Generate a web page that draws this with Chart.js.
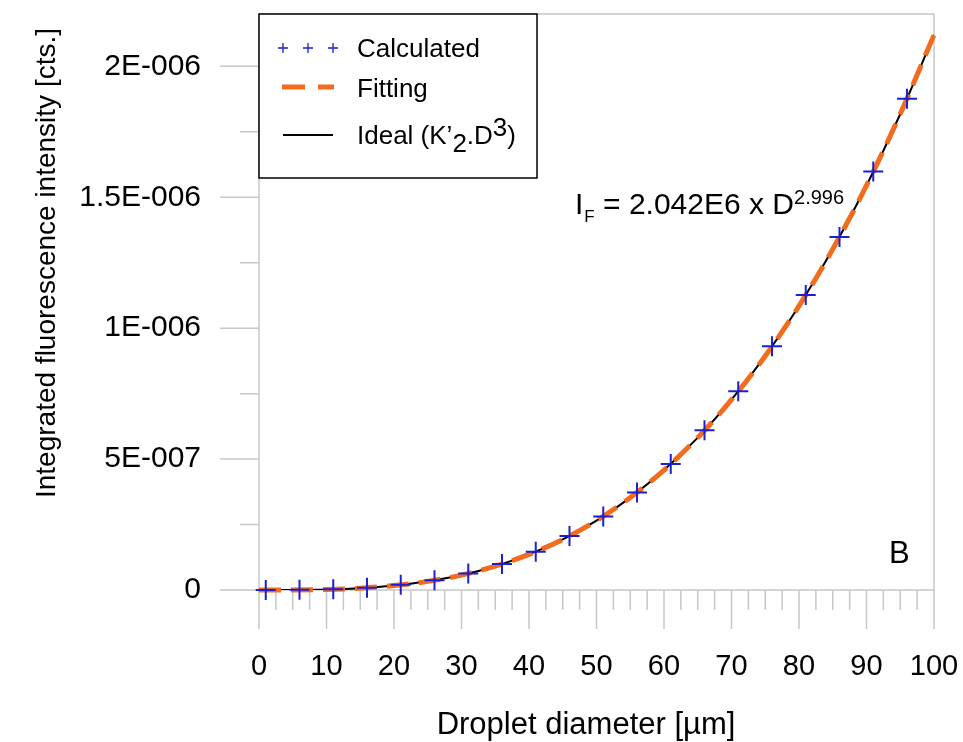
<!DOCTYPE html>
<html>
<head>
<meta charset="utf-8">
<script src="https://cdn.jsdelivr.net/npm/chart.js@4.4.1/dist/chart.umd.min.js"></script>
<style>
  html, body { margin: 0; padding: 0; background: #fff; }
</style>
</head>
<body>
<canvas id="intensityChart" width="963" height="742"></canvas>
<script>
/*
* droplet fluorescence chart: calculated points, the fitted power law and the
* ideal D^3 curve, plus a boxed legend and the fit equation.
*/
const diameterCalc = [1, 6, 11, 16, 21, 26, 31, 36, 41, 46, 51, 56, 61, 66, 71, 76, 81, 86, 91, 96];
const intensityCalc = [0.000e-6, 0.0005e-6, 0.003e-6, 0.009e-6, 0.020e-6, 0.037e-6, 0.063e-6,
   0.099e-6, 0.146e-6, 0.206e-6, 0.281e-6, 0.372e-6, 0.481e-6, 0.610e-6, 0.759e-6, 0.931e-6,
   1.127e-6, 1.348e-6, 1.598e-6, 1.876e-6];

const diameterCurve = [0, 5, 10, 15, 20, 25, 30, 35, 40, 45, 50, 55, 60, 65, 70, 75, 80, 85, 90, 95, 100];
const intensityFit = [0, 0.0003e-6, 0.002e-6, 0.007e-6, 0.017e-6, 0.033e-6, 0.057e-6, 0.091e-6,
   0.136e-6, 0.193e-6, 0.265e-6, 0.353e-6, 0.458e-6, 0.582e-6, 0.727e-6, 0.894e-6, 1.085e-6,
   1.302e-6, 1.545e-6, 1.818e-6, 2.120e-6];
const intensityIdeal = [0, 0.0003e-6, 0.002e-6, 0.007e-6, 0.017e-6, 0.033e-6, 0.057e-6, 0.091e-6,
   0.136e-6, 0.193e-6, 0.265e-6, 0.353e-6, 0.458e-6, 0.582e-6, 0.727e-6, 0.894e-6, 1.085e-6,
   1.302e-6, 1.545e-6, 1.818e-6, 2.120e-6];

const xTickValues = [0, 10, 20, 30, 40, 50, 60, 70, 80, 90, 100];
const xTickLabels = ['0', '10', '20', '30', '40', '50', '60', '70', '80', '90', '100'];
const yTickValues = [0, 0.5e-6, 1e-6, 1.5e-6, 2e-6];
const yTickLabels = ['0', '5E-007', '1E-006', '1.5E-006', '2E-006'];
const xMinorStep = 2.5;
const yMinorStep = 0.25e-6;

const BLUE = 'rgb(30,30,210)';
const ORANGE = 'rgb(243,108,30)';
const AXIS_GRAY = 'rgb(200,200,200)';
const FONT = '"Liberation Sans", Arial, sans-serif';

function toPoints(xs, ys) {
   return xs.map((x, i) => ({ x: x, y: ys[i] }));
}

/*
* pins a scale to a fixed size and drops the edge padding chart.js adds
* for its outer labels, so the plot area lands where we want it.
*/
function fixScale(scale, size) {
   if (scale.isHorizontal()) {
      scale.height = size;
   } else {
      scale.width = size;
   }
   scale.paddingTop = 0;
   scale.paddingBottom = 0;
   scale.paddingLeft = 0;
   scale.paddingRight = 0;
}

/*
* frame, axis lines and the major/minor tick marks, drawn under the data.
*/
const axesFrame = {
   id: 'axesFrame',
   beforeDatasetsDraw(chart) {
      const { ctx, chartArea: a, scales: { x, y } } = chart;
      ctx.save();
      ctx.strokeStyle = AXIS_GRAY;
      ctx.lineWidth = 1.5;
      ctx.beginPath();
      // top and right edges
      ctx.moveTo(a.left, a.top); ctx.lineTo(a.right, a.top); ctx.lineTo(a.right, a.bottom);
      // y axis line, carried down as the x = 0 tick
      ctx.moveTo(a.left, a.top); ctx.lineTo(a.left, a.bottom + 39);
      // x axis line, carried left as the y = 0 tick
      ctx.moveTo(a.left - 39, a.bottom); ctx.lineTo(a.right, a.bottom);
      for (let v = 0; v <= 100.001; v += xMinorStep) {
         const px = x.getPixelForValue(v);
         const major = Math.abs(v % 10) < 1e-6;
         ctx.moveTo(px, a.bottom);
         ctx.lineTo(px, a.bottom + (major ? 39 : 20));
      }
      for (let v = 0; v <= 2.2e-6; v += yMinorStep) {
         const py = y.getPixelForValue(v);
         const major = yTickValues.some(t => Math.abs(t - v) < 1e-9);
         ctx.moveTo(a.left, py);
         ctx.lineTo(a.left - (major ? 39 : 19), py);
      }
      ctx.stroke();
      ctx.restore();
   },
   afterDraw(chart) {
      const { ctx } = chart;
      const sets = chart.data.datasets;
      ctx.save();
      ctx.fillStyle = '#000';
      ctx.textBaseline = 'alphabetic';

      // axis titles
      ctx.font = '28px ' + FONT;
      ctx.save();
      ctx.translate(55, 263);
      ctx.rotate(-Math.PI / 2);
      ctx.textAlign = 'center';
      ctx.fillText('Integrated fluorescence intensity [cts.]', 0, 0);
      ctx.restore();
      ctx.font = '31px ' + FONT;
      ctx.textAlign = 'center';
      ctx.fillText('Droplet diameter [\u00b5m]', 586, 734);
      ctx.textAlign = 'left';

      // fit equation
      let cx = 575;
      ctx.font = '30px ' + FONT;
      ctx.fillText('I', cx, 214); cx += ctx.measureText('I').width + 1;
      ctx.font = '17px ' + FONT;
      ctx.fillText('F', cx, 222); cx += ctx.measureText('F').width;
      ctx.font = '30px ' + FONT;
      const eq = ' = 2.042E6 x D';
      ctx.fillText(eq, cx, 214); cx += ctx.measureText(eq).width;
      ctx.font = '20px ' + FONT;
      ctx.fillText('2.996', cx, 204);

      // panel letter
      ctx.font = '31px ' + FONT;
      ctx.fillText('B', 889, 563);

      // legend box
      ctx.fillStyle = '#fff';
      ctx.fillRect(259, 14, 278, 164);
      ctx.strokeStyle = '#000';
      ctx.lineWidth = 1.5;
      ctx.strokeRect(259, 14, 278, 164);

      ctx.strokeStyle = sets[0].borderColor;
      ctx.lineWidth = 1.3;
      [283, 308, 333].forEach(mx => {
         ctx.beginPath();
         ctx.moveTo(mx - 5, 48); ctx.lineTo(mx + 5, 48);
         ctx.moveTo(mx, 43); ctx.lineTo(mx, 53);
         ctx.stroke();
      });
      ctx.strokeStyle = sets[1].borderColor;
      ctx.lineWidth = 5;
      ctx.beginPath();
      ctx.moveTo(282, 87); ctx.lineTo(305, 87);
      ctx.moveTo(318, 87); ctx.lineTo(334, 87);
      ctx.stroke();
      ctx.strokeStyle = sets[2].borderColor;
      ctx.lineWidth = 2;
      ctx.beginPath();
      ctx.moveTo(283, 135); ctx.lineTo(333, 135);
      ctx.stroke();

      ctx.fillStyle = '#000';
      ctx.font = '26px ' + FONT;
      ctx.fillText(sets[0].label, 357, 57);
      ctx.fillText(sets[1].label, 357, 97);
      let lx = 357;
      const parts = [['Ideal (K\u2019', 144], ['2', 152], ['.D', 144], ['3', 136], [')', 144]];
      parts.forEach(([t, base]) => {
         ctx.fillText(t, lx, base);
         lx += ctx.measureText(t).width;
      });
      ctx.restore();
   }
};

const canvas = document.querySelector('#intensityChart');

new Chart(canvas, {
   type: 'scatter',
   data: {
      datasets: [{
         label: 'Calculated',
         data: toPoints(diameterCalc, intensityCalc),
         showLine: false,
         pointStyle: 'cross',
         pointRadius: 10,
         pointBorderWidth: 2,
         borderColor: BLUE,
         backgroundColor: BLUE,
         clip: false
      }, {
         label: 'Fitting',
         data: toPoints(diameterCurve, intensityFit),
         showLine: true,
         borderColor: ORANGE,
         borderWidth: 5,
         borderDash: [22, 10],
         pointRadius: 0,
         cubicInterpolationMode: 'monotone',
         clip: false
      }, {
         label: 'Ideal',
         data: toPoints(diameterCurve, intensityIdeal),
         showLine: true,
         borderColor: '#000',
         borderWidth: 2,
         pointRadius: 0,
         cubicInterpolationMode: 'monotone'
      }]
   },
   options: {
      responsive: false,
      animation: false,
      devicePixelRatio: 1,
      layout: { autoPadding: false, padding: { top: 14, right: 29, left: 0, bottom: 0 } },
      scales: {
         x: {
            type: 'linear',
            min: 0,
            max: 100,
            grid: { display: false, drawTicks: false },
            border: { display: false },
            afterBuildTicks: scale => { scale.ticks = xTickValues.map(v => ({ value: v })); },
            afterFit: scale => fixScale(scale, 152),
            ticks: {
               autoSkip: false,
               maxRotation: 0,
               padding: 60,
               color: '#000',
               font: { family: FONT, size: 29 },
               callback: (value, index) => xTickLabels[index]
            }
         },
         y: {
            type: 'linear',
            min: 0,
            max: 2.2e-6,
            grid: { display: false, drawTicks: false },
            border: { display: false },
            afterBuildTicks: scale => { scale.ticks = yTickValues.map(v => ({ value: v })); },
            afterFit: scale => fixScale(scale, 259),
            ticks: {
               padding: 58,
               color: '#000',
               font: { family: FONT, size: 30 },
               callback: (value, index) => yTickLabels[index]
            }
         }
      },
      plugins: {
         legend: { display: false },
         tooltip: { enabled: false }
      }
   },
   plugins: [axesFrame]
});
</script>
</body>
</html>
